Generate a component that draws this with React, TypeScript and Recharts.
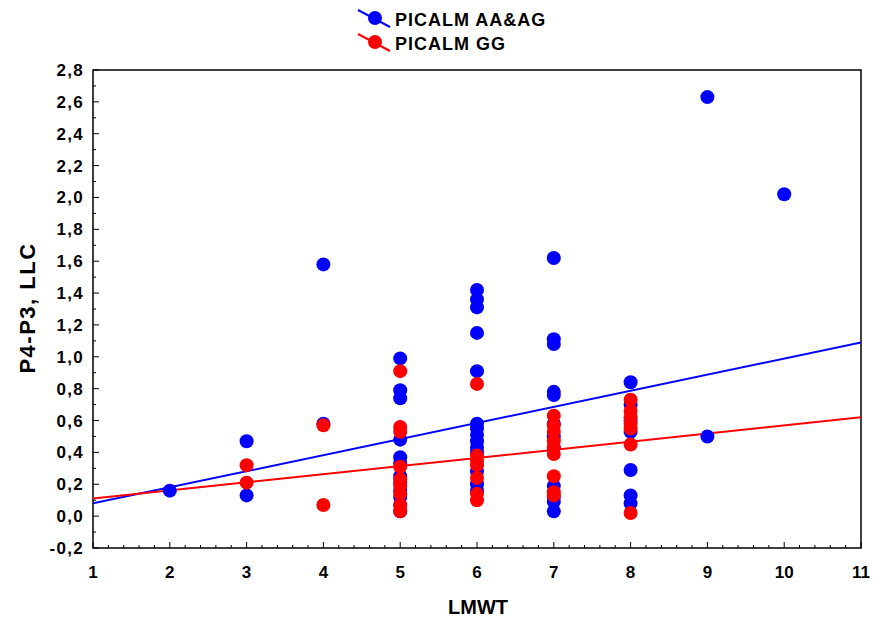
import React from 'react';
import { ScatterChart, Scatter, XAxis, YAxis, ReferenceArea } from 'recharts';

// ---- data ----
const lmwtLevels = [2, 3, 4, 5, 6, 7, 8, 9, 10];

const aaagValues: number[][] = [
  [0.16],
  [0.47, 0.13],
  [1.58, 0.58],
  [0.99, 0.79, 0.74, 0.48, 0.37, 0.33, 0.25, 0.21, 0.16, 0.12, 0.07, 0.03],
  [1.42, 1.36, 1.31, 1.15, 0.91, 0.58, 0.55, 0.51, 0.47, 0.43, 0.4, 0.28, 0.2, 0.16],
  [1.62, 1.11, 1.08, 0.78, 0.76, 0.58, 0.5, 0.43, 0.19, 0.12, 0.09, 0.03],
  [0.84, 0.7, 0.6, 0.53, 0.29, 0.13, 0.08],
  [2.63, 0.5],
  [2.02],
];

const ggValues: number[][] = [
  [],
  [0.32, 0.21],
  [0.57, 0.07],
  [0.91, 0.56, 0.53, 0.31, 0.23, 0.19, 0.14, 0.07, 0.03],
  [0.83, 0.38, 0.35, 0.32, 0.24, 0.14, 0.1],
  [0.63, 0.57, 0.53, 0.47, 0.43, 0.39, 0.25, 0.15, 0.13],
  [0.73, 0.66, 0.62, 0.58, 0.55, 0.45, 0.02],
  [],
  [],
];

// fitted regression lines (endpoints)
const fitX = [1, 11];
const aaagFitY = [0.08, 1.09];
const ggFitY = [0.11, 0.62];

const seriesNames = ['PICALM AA&AG', 'PICALM GG'];
const xTitle = 'LMWT';
const yTitle = 'P4-P3, LLC';

const xMajorTicks = [1, 2, 3, 4, 5, 6, 7, 8, 9, 10, 11];
const xMinorPerMajor = 4;
const yMajorTicks = [-0.2, 0, 0.2, 0.4, 0.6, 0.8, 1.0, 1.2, 1.4, 1.6, 1.8, 2.0, 2.2, 2.4, 2.6, 2.8];
const yMinorPerMajor = 1;

// ---- build ----
const toPoints = (vals: number[][]) =>
  lmwtLevels.flatMap((x, i) => vals[i].map((y) => ({ x, y })));
const aaagData = toPoints(aaagValues);
const ggData = toPoints(ggValues);
const aaagFit = fitX.map((x, i) => ({ x, y: aaagFitY[i] }));
const ggFit = fitX.map((x, i) => ({ x, y: ggFitY[i] }));

const expand = (major: number[], minor: number) => {
  const out: number[] = [];
  for (let i = 0; i < major.length; i++) {
    out.push(major[i]);
    if (i < major.length - 1) {
      const step = (major[i + 1] - major[i]) / (minor + 1);
      for (let k = 1; k <= minor; k++) out.push(Math.round((major[i] + k * step) * 1000) / 1000);
    }
  }
  return out;
};
const xAllTicks = expand(xMajorTicks, xMinorPerMajor);
const yAllTicks = expand(yMajorTicks, yMinorPerMajor);
const isMajor = (v: number, arr: number[]) => arr.some((m) => Math.abs(m - v) < 1e-6);

const FONT = "Arial, 'Liberation Sans', sans-serif";
const BLUE = '#0000ff';
const RED = '#ff0000';

const XTick = (props: any) => {
  const { x, y, payload } = props;
  const v = payload.value;
  const major = isMajor(v, xMajorTicks);
  return (
    <g>
      <line x1={x} x2={x} y1={y} y2={y - (major ? 6 : 3)} stroke="#000" strokeWidth={1} />
      {major && (
        <text x={x} y={y + 30} textAnchor="middle" fontFamily={FONT} fontWeight="bold" fontSize={17} fill="#000">
          {String(v)}
        </text>
      )}
    </g>
  );
};

const YTick = (props: any) => {
  const { x, y, payload } = props;
  const v = payload.value;
  const major = isMajor(v, yMajorTicks);
  return (
    <g>
      <line x1={x} x2={x + (major ? 6 : 3)} y1={y} y2={y} stroke="#000" strokeWidth={1} />
      {major && (
        <text x={x - 9} y={y + 6} textAnchor="end" fontFamily={FONT} fontWeight="bold" fontSize={17} fill="#000" letterSpacing={1.3}>
          {v.toFixed(1).replace('.', ',')}
        </text>
      )}
    </g>
  );
};

const Dot = (color: string) => (props: any) => {
  const { cx, cy } = props;
  if (cx == null || cy == null) return <g />;
  return <circle cx={cx} cy={cy} r={7} fill={color} />;
};
const NoShape = () => <g />;

export default function App() {
  return (
    <div style={{ position: 'absolute', left: 0, top: 0, width: 873, height: 626, background: '#fff' }}>
      <ScatterChart width={873} height={626} margin={{ top: 70, right: 12, bottom: 0, left: 0 }}>
        <XAxis
          type="number"
          dataKey="x"
          domain={[1, 11]}
          ticks={xAllTicks}
          interval={0}
          tickSize={0}
          tickMargin={0}
          tickLine={false}
          axisLine={false}
          height={78}
          tick={<XTick />}
          allowDataOverflow
        />
        <YAxis
          type="number"
          dataKey="y"
          domain={[-0.2, 2.8]}
          ticks={yAllTicks}
          interval={0}
          tickSize={0}
          tickMargin={0}
          tickLine={false}
          axisLine={false}
          width={93}
          tick={<YTick />}
          allowDataOverflow
        />
        <ReferenceArea x1={1} x2={11} y1={-0.2} y2={2.8} fill="none" fillOpacity={0} stroke="#000" strokeWidth={1.5} ifOverflow="visible" />
        <Scatter data={aaagFit} line={{ stroke: BLUE, strokeWidth: 2 }} shape={NoShape} isAnimationActive={false} />
        <Scatter data={ggFit} line={{ stroke: RED, strokeWidth: 2 }} shape={NoShape} isAnimationActive={false} />
        <Scatter data={aaagData} shape={Dot(BLUE)} isAnimationActive={false} />
        <Scatter data={ggData} shape={Dot(RED)} isAnimationActive={false} />
      </ScatterChart>
      <svg width={873} height={626} style={{ position: 'absolute', left: 0, top: 0, pointerEvents: 'none' }}>
        <line x1={358} y1={10} x2={390} y2={27} stroke={BLUE} strokeWidth={2} />
        <circle cx={375} cy={18} r={7} fill={BLUE} />
        <text x={395} y={26} fontFamily={FONT} fontWeight="bold" fontSize={18} letterSpacing={1} fill="#000">
          {seriesNames[0]}
        </text>
        <line x1={358} y1={34} x2={390} y2={51} stroke={RED} strokeWidth={2} />
        <circle cx={375} cy={42} r={7} fill={RED} />
        <text x={395} y={50} fontFamily={FONT} fontWeight="bold" fontSize={18} letterSpacing={1} fill="#000">
          {seriesNames[1]}
        </text>
        <text x={478} y={614} textAnchor="middle" fontFamily={FONT} fontWeight="bold" fontSize={20} fill="#000">
          {xTitle}
        </text>
        <text
          x={35}
          y={308}
          transform="rotate(-90, 35, 308)"
          textAnchor="middle"
          fontFamily={FONT}
          fontWeight="bold"
          fontSize={22}
          letterSpacing={1.5}
          fill="#000"
        >
          {yTitle}
        </text>
      </svg>
    </div>
  );
}
